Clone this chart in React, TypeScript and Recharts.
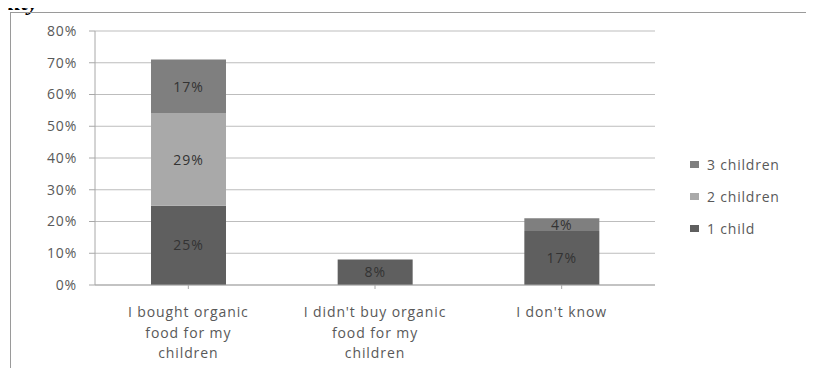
import { Bar, BarChart, CartesianGrid, LabelList, Legend, XAxis, YAxis } from "recharts"

const categories = [
  "I bought organic food for my children",
  "I didn't buy organic food for my children",
  "I don't know",
]
const tickLines = [
  ["I bought organic", "food for my", "children"],
  ["I didn't buy organic", "food for my", "children"],
  ["I don't know"],
]
const oneChild = [25, 8, 17]
const twoChildren = [29, 0, 0]
const threeChildren = [17, 0, 4]
const yTicks = [0, 10, 20, 30, 40, 50, 60, 70, 80]

const data = categories.map((name, i) => ({
  name,
  one: oneChild[i],
  two: twoChildren[i],
  three: threeChildren[i],
}))

const FONT = "'Open Sans', 'Liberation Sans', sans-serif"
const TEXT = "#595959"

const series = [
  { key: "one", label: "1 child", color: "#5f5f5f" },
  { key: "two", label: "2 children", color: "#a9a9a9" },
  { key: "three", label: "3 children", color: "#7f7f7f" },
]

function CategoryTick(props: any) {
  const { x, y, index } = props
  const lines = tickLines[index] || []
  return (
    <text x={x} y={y + 26} textAnchor="middle" fill={TEXT} fontSize={14} letterSpacing={0.9} fontFamily={FONT}>
      {lines.map((l, i) => (
        <tspan key={i} x={x} dy={i === 0 ? 0 : 20.5}>
          {l}
        </tspan>
      ))}
    </text>
  )
}

function LegendBox() {
  const items = [...series].reverse()
  return (
    <div>
      {items.map((s) => (
        <div
          key={s.key}
          style={{
            display: "flex",
            alignItems: "center",
            height: 32,
            fontFamily: FONT,
            fontSize: 14,
            letterSpacing: 0.8,
            color: TEXT,
          }}
        >
          <span style={{ width: 9, height: 7, background: s.color, marginRight: 8, display: "inline-block" }} />
          {s.label}
        </div>
      ))}
    </div>
  )
}

const pct = (v: any) => (v ? `${v}%` : "")

export default function App() {
  return (
    <div style={{ position: "relative", width: 814, height: 376, margin: -8, background: "#fff", overflow: "hidden" }}>
      <svg width={60} height={16} style={{ position: "absolute", left: 0, top: 0 }}>
        <text
          x={1}
          y={10}
          fontFamily="'Liberation Serif', serif"
          fontStyle="italic"
          fontWeight="bold"
          fontSize={24}
          fill="#000"
        >
          ility
        </text>
      </svg>
      <div
        style={{
          position: "absolute",
          left: 10,
          top: 12,
          width: 800,
          height: 380,
          borderLeft: "1.5px solid #9a9a9a",
          borderTop: "1.5px solid #9a9a9a",
          borderRight: "1px solid #d8d8d8",
        }}
      />
      <div style={{ position: "absolute", left: 0, top: 0 }}>
        <BarChart
          width={814}
          height={376}
          data={data}
          margin={{ top: 31, right: 159, bottom: 61, left: 38 }}
          barCategoryGap="30%"
        >
          <CartesianGrid vertical={false} stroke="#bdbdbd" />
          <XAxis
            dataKey="name"
            stroke="#a8a8a8"
            tickSize={4}
            tick={<CategoryTick />}
            interval={0}
            tickLine={{ stroke: "#a8a8a8" }}
          />
          <YAxis
            domain={[0, 80]}
            ticks={yTicks}
            width={57}
            stroke="#a8a8a8"
            tickSize={6}
            tickMargin={12}
            tickFormatter={(v) => `${v}%`}
            tick={{ fill: TEXT, fontSize: 14, fontFamily: FONT, letterSpacing: 0.8 }}
          />
          {series.map((s) => (
            <Bar key={s.key} dataKey={s.key} name={s.label} stackId="a" fill={s.color} isAnimationActive={false}>
              <LabelList
                dataKey={s.key}
                position="center"
                formatter={pct}
                fill="#333"
                fontSize={14}
                letterSpacing={1}
                fontFamily={FONT}
              />
            </Bar>
          ))}
          <Legend
            layout="vertical"
            align="center"
            verticalAlign="middle"
            content={<LegendBox />}
            wrapperStyle={{ left: 690, top: 148, width: 124 }}
          />
        </BarChart>
      </div>
    </div>
  )
}
